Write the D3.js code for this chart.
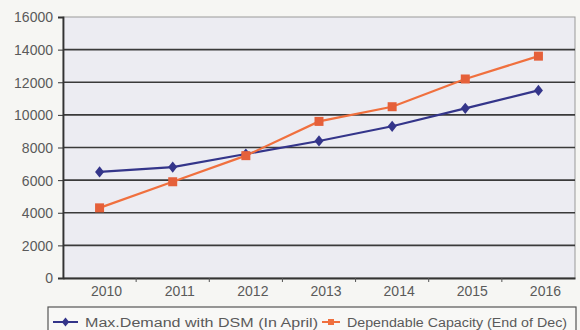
<!DOCTYPE html>
<html lang="en">
<head>
<meta charset="UTF-8">
<title>Demand vs Capacity</title>
<script src="https://d3js.org/d3.v7.min.js"></script>
<style>
    body { margin: 0; background: #f6f6f3; }
    text { font-family: "Liberation Sans", Arial, sans-serif; fill: #5a5a5a; }
</style>
</head>
<body>
<svg width="580" height="330"></svg>
<script>
    const years = ["2010", "2011", "2012", "2013", "2014", "2015", "2016"];
    const demand = [6500, 6800, 7600, 8400, 9300, 10400, 11500];
    const capacity = [4300, 5900, 7500, 9600, 10500, 12200, 13600];
    const yTicks = [0, 2000, 4000, 6000, 8000, 10000, 12000, 14000, 16000];
    const seriesNames = ["Max.Demand with DSM (In April)", "Dependable Capacity (End of Dec)"];

    const svg = d3.select("svg");
    const plotLeft = 63, plotRight = 575, plotTop = 17, plotBottom = 278;

    const x = d3.scaleBand().domain(years).range([plotLeft, plotRight]);
    const y = d3.scaleLinear().domain([0, 16000]).range([plotBottom, plotTop]);

    svg.append("rect")
        .attr("x", plotLeft).attr("y", plotTop)
        .attr("width", plotRight - plotLeft).attr("height", plotBottom - plotTop)
        .attr("fill", "#ececf2")
        .attr("stroke", "#999").attr("stroke-width", 1);

    // horizontal grid lines
    svg.append("g")
        .selectAll("line")
        .data(yTicks.slice(1, -1))
        .enter().append("line")
        .attr("x1", plotLeft).attr("x2", plotRight)
        .attr("y1", d => y(d)).attr("y2", d => y(d))
        .attr("stroke", "#3a3a3a").attr("stroke-width", 1.6);

    const yAxis = svg.append("g")
        .attr("transform", `translate(${plotLeft},0)`)
        .call(d3.axisLeft(y).tickValues(yTicks).tickSize(5).tickPadding(5).tickFormat(d3.format("d")));
    yAxis.select(".domain").attr("stroke", "#333").attr("stroke-width", 1.8);
    yAxis.selectAll(".tick line").attr("stroke", "#333");
    yAxis.selectAll("text").attr("font-size", 14).attr("dy", "0.35em");

    const xAxis = svg.append("g")
        .attr("transform", `translate(0,${plotBottom})`)
        .call(d3.axisBottom(x).tickSize(0).tickPadding(8));
    xAxis.select(".domain").attr("stroke", "#333").attr("stroke-width", 1.8);
    xAxis.selectAll("text").attr("font-size", 14).attr("dx", 7);

    // ticks between categories
    svg.append("g")
        .selectAll("line")
        .data(years.slice(1))
        .enter().append("line")
        .attr("x1", d => x(d)).attr("x2", d => x(d))
        .attr("y1", plotBottom).attr("y2", plotBottom + 4)
        .attr("stroke", "#555");

    const line = d3.line()
        .x((d, i) => x(years[i]) + x.bandwidth() / 2)
        .y(d => y(d));

    const blue = "#34358a", orange = "#f0703e";

    svg.append("path").datum(demand)
        .attr("d", line).attr("fill", "none")
        .attr("stroke", blue).attr("stroke-width", 2.2);
    svg.append("path").datum(capacity)
        .attr("d", line).attr("fill", "none")
        .attr("stroke", orange).attr("stroke-width", 2.2);

    svg.append("g").selectAll("path")
        .data(demand)
        .enter().append("path")
        .attr("transform", (d, i) => `translate(${x(years[i]) + x.bandwidth() / 2},${y(d)}) scale(1.25,0.9)`)
        .attr("d", d3.symbol(d3.symbolDiamond, 45))
        .attr("fill", blue);

    svg.append("g").selectAll("rect")
        .data(capacity)
        .enter().append("rect")
        .attr("x", (d, i) => x(years[i]) + x.bandwidth() / 2 - 4.5)
        .attr("y", d => y(d) - 4.5)
        .attr("width", 9).attr("height", 9)
        .attr("fill", "#e5603a");

    // legend
    const legend = svg.append("g");
    legend.append("rect")
        .attr("x", 48).attr("y", 307)
        .attr("width", 528).attr("height", 26)
        .attr("fill", "#f8f8f6").attr("stroke", "#555").attr("stroke-width", 1.2);

    const items = [
        { x: 53, len: 25, tx: 85, tw: 233, color: blue, name: seriesNames[0], sq: false },
        { x: 322, len: 18, tx: 347, tw: 220, color: orange, name: seriesNames[1], sq: true }
    ];
    items.forEach(it => {
        legend.append("line")
            .attr("x1", it.x).attr("x2", it.x + it.len)
            .attr("y1", 322).attr("y2", 322)
            .attr("stroke", it.color).attr("stroke-width", 2);
        if (it.sq) {
            legend.append("rect")
                .attr("x", it.x + it.len / 2 - 3).attr("y", 319)
                .attr("width", 6).attr("height", 6)
                .attr("fill", it.color);
        } else {
            legend.append("path")
                .attr("transform", `translate(${it.x + it.len / 2},322) scale(1.25,0.9)`)
                .attr("d", d3.symbol(d3.symbolDiamond, 30))
                .attr("fill", it.color);
        }
        legend.append("text")
            .attr("x", it.tx).attr("y", 327)
            .attr("font-size", 12.5)
            .attr("fill", "#666")
            .attr("textLength", it.tw)
            .attr("lengthAdjust", "spacingAndGlyphs")
            .text(it.name);
    });
</script>
</body>
</html>
